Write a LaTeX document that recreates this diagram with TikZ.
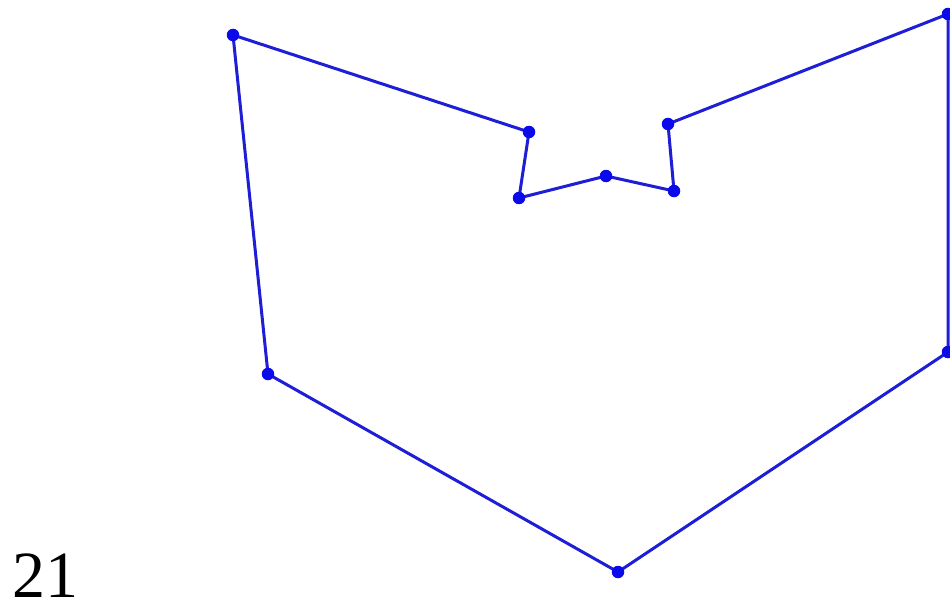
\documentclass[tikz,border=0pt]{standalone}
\usepackage{fontspec}
\setmainfont{Liberation Serif}
\definecolor{edgeblue}{RGB}{30,30,215}
\definecolor{dotblue}{RGB}{10,10,235}
\begin{document}
\begin{tikzpicture}[x=1pt,y=-1pt,
  vtx/.style={circle,fill=dotblue,inner sep=0pt,minimum size=12.5pt},
  edge/.style={draw=edgeblue,line width=3pt,line join=round}]
\useasboundingbox (0,0) rectangle (950,607);
\clip (0,0) rectangle (950,607);
\fill[white] (0,0) rectangle (950,607);
\draw[edge] (233,35) coordinate (a) -- (529,132) coordinate (b) -- (519,198) coordinate (c) -- (606,176) coordinate (d) -- (674,191) coordinate (e) -- (668,124) coordinate (f) -- (948,14) coordinate (g) -- (948,352) coordinate (h) -- (618,572) coordinate (i) -- (268,374) coordinate (j) -- cycle;
\node[vtx] (A) at (a) {};
\node[vtx] (B) at (b) {};
\node[vtx] (C) at (c) {};
\node[vtx] (D) at (d) {};
\node[vtx] (E) at (e) {};
\node[vtx] (F) at (f) {};
\node[vtx] (G) at (g) {};
\node[vtx] (H) at (h) {};
\node[vtx] (I) at (i) {};
\node[vtx] (J) at (j) {};
\node[anchor=base west,inner sep=0pt,font=\fontsize{66}{66}\selectfont] (lbl) at (12,597) {21};
\end{tikzpicture}
\end{document}
